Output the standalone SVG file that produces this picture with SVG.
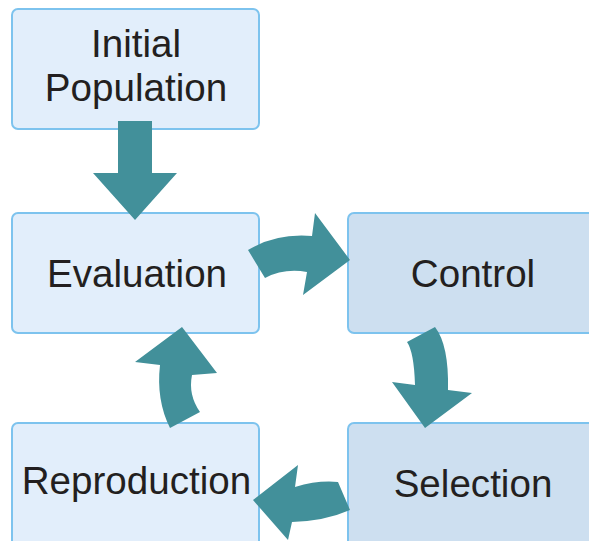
<svg xmlns="http://www.w3.org/2000/svg" width="589" height="541" viewBox="0 0 589 541">
  <style>
    .box { stroke: #7dc3ee; stroke-width: 2; }
    .light { fill: #e2eefb; }
    .dark { fill: #cddff0; }
    .label { font-family: "Liberation Sans", Arial, sans-serif; font-size: 38.6px; fill: #231f20; text-anchor: middle; }
    .arrow { fill: #42909a; stroke: none; }
  </style>
  <rect width="589" height="541" fill="#ffffff"/>

  <g id="initial-population">
    <rect class="box light" x="12" y="9" width="247" height="120" rx="6"/>
    <text class="label" x="136" y="57">Initial</text>
    <text class="label" x="136" y="101">Population</text>
  </g>

  <g id="evaluation">
    <rect class="box light" x="12" y="213" width="247" height="120" rx="6"/>
    <text class="label" x="137" y="287">Evaluation</text>
  </g>

  <g id="control">
    <rect class="box dark" x="348" y="213" width="260" height="120" rx="6"/>
    <text class="label" x="473" y="287">Control</text>
  </g>

  <g id="reproduction">
    <rect class="box light" x="12" y="423" width="247" height="125" rx="6"/>
    <text class="label" x="136.5" y="494">Reproduction</text>
  </g>

  <g id="selection">
    <rect class="box dark" x="348" y="423" width="260" height="125" rx="6"/>
    <text class="label" x="473" y="497">Selection</text>
  </g>

  <g id="connectors">
    <!-- straight arrow: Initial Population to Evaluation -->
    <path class="arrow" d="M118,121 L152,121 L152,173 L177,173 L135,220 L93,173 L118,173 Z"/>
    <!-- curved arrow: Evaluation to Control -->
    <path class="arrow" d="M248,250 Q276,233 312,236 L315,213 L350,260 L303,295 L307,272 Q284,268 265,278 Z"/>
    <!-- curved arrow: Control to Selection -->
    <path class="arrow" d="M407,342 Q414,352 415,385 L392,382 L425,428 L472,393 L448,390 Q449,345 435,327 Z"/>
    <!-- curved arrow: Selection to Reproduction -->
    <path class="arrow" d="M253,500 L298,465 L295,487 Q318,480 338,482 L350,510 Q325,521 292,522 L288,540 Z"/>
    <!-- curved arrow: Reproduction to Evaluation -->
    <path class="arrow" d="M182,327 L217,373 L192,375 Q188,395 200,412 L170,428 Q156,400 160,365 L135,362 Z"/>
  </g>
</svg>
